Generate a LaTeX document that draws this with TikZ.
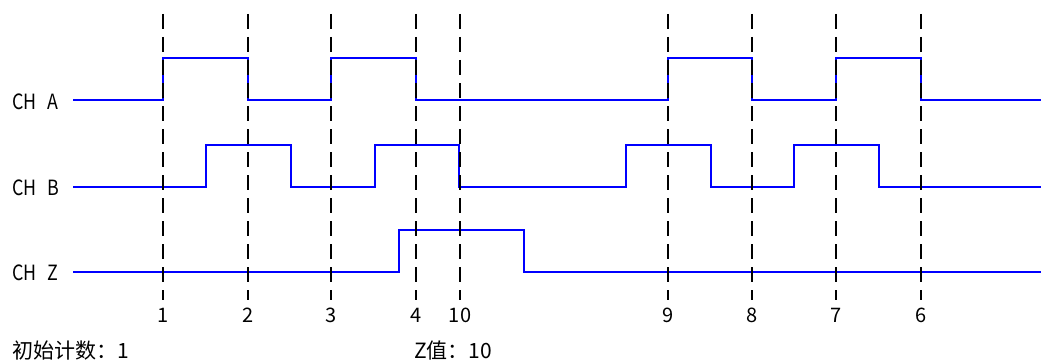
\documentclass[tikz,border=0pt]{standalone}
\usepackage{fontspec}
\setmainfont{Noto Sans CJK SC}
\newfontfamily\chfont[FakeStretch=0.85]{Noto Sans CJK SC}
\begin{document}
\begin{tikzpicture}[x=1pt,y=-1pt,
  sig/.style={draw=blue, line width=2.2pt, line join=miter},
  gridline/.style={draw=black, line width=2.2pt, dash pattern=on 15pt off 8pt},
  chlbl/.style={font=\chfont\fontsize{21}{21}\selectfont, inner sep=0pt, anchor=base west},
  numlbl/.style={font=\fontsize{20}{20}\selectfont, inner sep=0pt, anchor=base},
  txtlbl/.style={font=\fontsize{21}{21}\selectfont, inner sep=0pt, anchor=base west}]
\useasboundingbox (0,0) rectangle (1041,361);
% signals
\draw[sig] (73,100) -| (163,58) -| (248,100) -| (331,58) -| (416,100) -| (668,58) -| (752,100) -| (836,58) -| (921,100) -- (1041,100);
\draw[sig] (73,187) -| (206,145) -| (291,187) -| (375,145) -| (459,187) -| (626,145) -| (711,187) -| (794,145) -| (879,187) -- (1041,187);
\draw[sig] (73,272) -| (399,230) -| (524,272) -- (1041,272);
% dashed markers and counts
\foreach \x/\n in {163/1,248/2,331/3,416/4,460/10,668/9,752/8,836/7,921/6}{
  \draw[gridline] (\x,14) -- (\x,300);
  \node[numlbl] (n\n) at (\x,322) {\n};
}
% channel labels
\node[chlbl] (la) at (12,109) {CH\hspace{0.5em}A};
\node[chlbl] (lb) at (12,195) {CH\hspace{0.5em}B};
\node[chlbl] (lz) at (12,280) {CH\hspace{0.5em}Z};
% bottom texts
\node[txtlbl] (init) at (12,358) {初始计数：1};
\node[txtlbl] (zval) at (414,358) {Z值：10};
\end{tikzpicture}
\end{document}
